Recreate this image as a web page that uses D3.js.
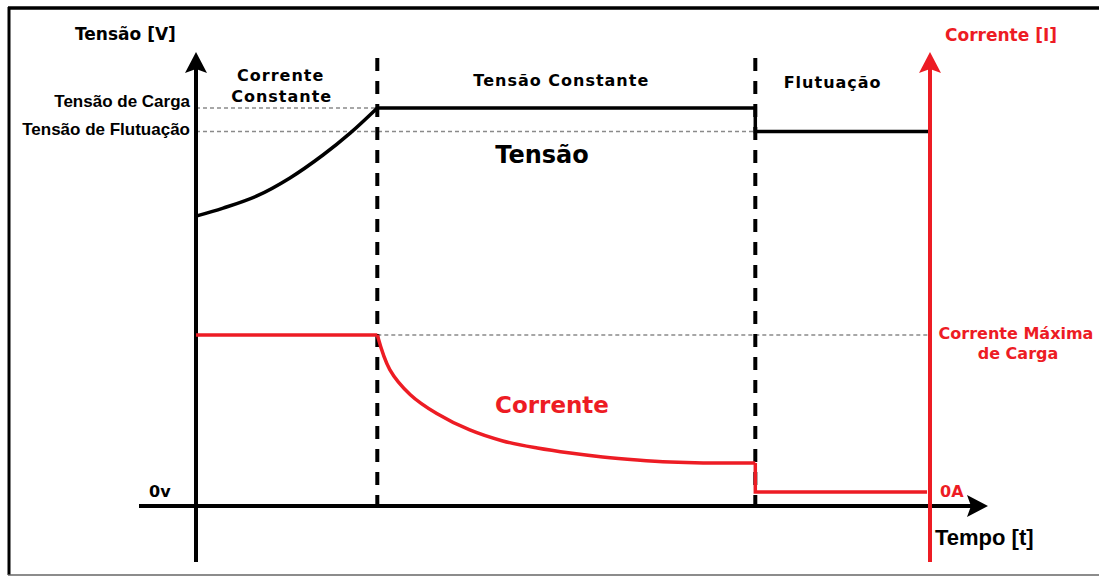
<!DOCTYPE html>
<html>
<head>
<meta charset="utf-8">
<script src="https://cdn.jsdelivr.net/npm/d3@7"></script>
<style>
  body { margin: 0; background: #fff; }
  svg { display: block; font-family: "DejaVu Sans", Verdana, sans-serif; font-weight: bold; }
</style>
</head>
<body>
<svg></svg>
<script>
// phases of the charge (time in arbitrary units, 0..100)
const phaseNames = ['Corrente Constante', 'Tensão Constante', 'Flutuação'];
const phaseBounds = [0, 24.7, 76.2, 100];

// voltage readings
const chargeT = [0, 3.7, 8.3, 12.8, 17.3, 21, 24.7];
const chargeV = [10.49, 10.78, 11.22, 11.87, 12.7, 13.49, 14.4];
const holdT = [24.7, 76.2, 76.2, 100];
const holdV = [14.4, 14.4, 13.55, 13.55];

// current readings
const ccT = [0, 24.7];
const ccI = [10, 10];
const decayT = [24.7, 26.4, 29.2, 32.8, 37.3, 41.8, 46.5, 51, 55.4, 60.1, 64.6, 69.1, 76.2];
const decayI = [10, 7.8, 6.2, 5.0, 3.95, 3.25, 2.8, 2.48, 2.23, 2.04, 1.91, 1.85, 1.85];
const floatT = [76.2, 76.2, 99.6];
const floatI = [1.85, 0, 0];

// reference levels
const chargeVoltage = 14.4;
const floatVoltage = 13.55;
const maxCurrent = 10;

const width = 1099;
const height = 576;
const red = '#ed1c24';

const svg = d3.select('svg')
    .attr('width', width)
    .attr('height', height);

const x = d3.scaleLinear().domain([0, 100]).range([196, 930]);
const yV = d3.scaleLinear().domain([0, chargeVoltage]).range([506, 108]);
const yI = d3.scaleLinear().domain([0, maxCurrent]).range([492, 335]);

// frame
svg.append('line').attr('x1', 8).attr('x2', width).attr('y1', 8).attr('y2', 8)
    .attr('stroke', '#000').attr('stroke-width', 3.5);
svg.append('line').attr('x1', 9).attr('x2', 9).attr('y1', 7).attr('y2', 575)
    .attr('stroke', '#000').attr('stroke-width', 3);
svg.append('line').attr('x1', 8).attr('x2', width).attr('y1', 575).attr('y2', 575)
    .attr('stroke', '#666').attr('stroke-width', 1.5);

// gray reference lines
const refLines = [
    { t0: 0, t1: phaseBounds[1], y: yV(chargeVoltage) },
    { t0: 0, t1: phaseBounds[2], y: yV(floatVoltage) },
    { t0: phaseBounds[1], t1: 100, y: yI(maxCurrent) }
];
svg.selectAll('.ref')
    .data(refLines)
    .enter()
    .append('line')
    .attr('x1', d => x(d.t0))
    .attr('x2', d => x(d.t1))
    .attr('y1', d => d.y)
    .attr('y2', d => d.y)
    .attr('stroke', '#8a8a8a')
    .attr('stroke-width', 1.5)
    .attr('stroke-dasharray', '4,3');

// phase separators
svg.selectAll('.sep')
    .data(phaseBounds.slice(1, 3))
    .enter()
    .append('line')
    .attr('x1', d => x(d))
    .attr('x2', d => x(d))
    .attr('y1', 58)
    .attr('y2', yV(0))
    .attr('stroke', '#000')
    .attr('stroke-width', 4)
    .attr('stroke-dasharray', '13,10');

// axes
const arrowUp = (cx, tip) => `M${cx},${tip} L${cx + 11},${tip + 21} L${cx},${tip + 17} L${cx - 11},${tip + 21} Z`;
const arrowRight = (tip, cy) => `M${tip},${cy} L${tip - 21},${cy - 11} L${tip - 17},${cy} L${tip - 21},${cy + 11} Z`;

svg.append('line').attr('x1', x(0)).attr('x2', x(0)).attr('y1', 562).attr('y2', 64)
    .attr('stroke', '#000').attr('stroke-width', 4);
svg.append('path').attr('d', arrowUp(x(0), 52)).attr('fill', '#000');

svg.append('line').attr('x1', 139).attr('x2', 976).attr('y1', yV(0)).attr('y2', yV(0))
    .attr('stroke', '#000').attr('stroke-width', 4);
svg.append('path').attr('d', arrowRight(988, yV(0))).attr('fill', '#000');

// voltage
const lineV = d3.line().x(d => x(d[0])).y(d => yV(d[1]));
svg.append('path')
    .attr('d', lineV.curve(d3.curveCatmullRom)(d3.zip(chargeT, chargeV)))
    .attr('fill', 'none').attr('stroke', '#000').attr('stroke-width', 3.5);
svg.append('path')
    .attr('d', lineV.curve(d3.curveLinear)(d3.zip(holdT, holdV)))
    .attr('fill', 'none').attr('stroke', '#000').attr('stroke-width', 3.5);

// current
const lineI = d3.line().x(d => x(d[0])).y(d => yI(d[1]));
[[ccT, ccI, d3.curveLinear], [decayT, decayI, d3.curveCatmullRom], [floatT, floatI, d3.curveLinear]]
    .forEach(([ts, is, curve]) => {
        svg.append('path')
            .attr('d', lineI.curve(curve)(d3.zip(ts, is)))
            .attr('fill', 'none').attr('stroke', red).attr('stroke-width', 3.5);
    });

// red current axis (drawn over the traces)
svg.append('line').attr('x1', x(100)).attr('x2', x(100)).attr('y1', 562).attr('y2', 64)
    .attr('stroke', red).attr('stroke-width', 4);
svg.append('path').attr('d', arrowUp(x(100), 52)).attr('fill', red);

// labels
const text = (str, tx, ty, opts = {}) => svg.append('text')
    .attr('x', tx).attr('y', ty)
    .attr('text-anchor', opts.anchor || 'start')
    .attr('font-size', opts.size || 16)
    .attr('fill', opts.color || '#000')
    .style('letter-spacing', opts.spacing || '0px')
    .style('font-family', opts.family || null)
    .text(str);

text('Tensão [V]', 75, 40, { size: 17 });
text('Corrente [I]', 945, 41, { size: 17, color: red });

const mid = i => x((phaseBounds[i] + phaseBounds[i + 1]) / 2);
const [w1, w2] = phaseNames[0].split(' ');
text(w1, mid(0) - 6, 81, { anchor: 'middle', spacing: '1px' });
text(w2, mid(0) - 5, 102, { anchor: 'middle', spacing: '1px' });
text(phaseNames[1], mid(1) - 5, 86, { anchor: 'middle', spacing: '1px' });
text(phaseNames[2], mid(2) - 10, 88, { anchor: 'middle', spacing: '1px' });

const leftFont = '"Liberation Sans", Arial, sans-serif';
text('Tensão de Carga', 190, yV(chargeVoltage) - 1, { anchor: 'end', size: 17, family: leftFont });
text('Tensão de Flutuação', 190, yV(floatVoltage) + 4, { anchor: 'end', size: 17, family: leftFont });
text('0v', 149, 497, { size: 16 });

text('Tensão', 542, 163, { anchor: 'middle', size: 24 });
text('Corrente', 552, 413, { anchor: 'middle', size: 23, color: red });

text('Corrente Máxima', 1016, yI(maxCurrent) + 4, { anchor: 'middle', color: red });
text('de Carga', 1018, yI(maxCurrent) + 24, { anchor: 'middle', color: red });
text('0A', 940, yI(0) + 5, { color: red });
text('Tempo [t]', 935, 545, { size: 22, family: leftFont });
</script>
</body>
</html>
